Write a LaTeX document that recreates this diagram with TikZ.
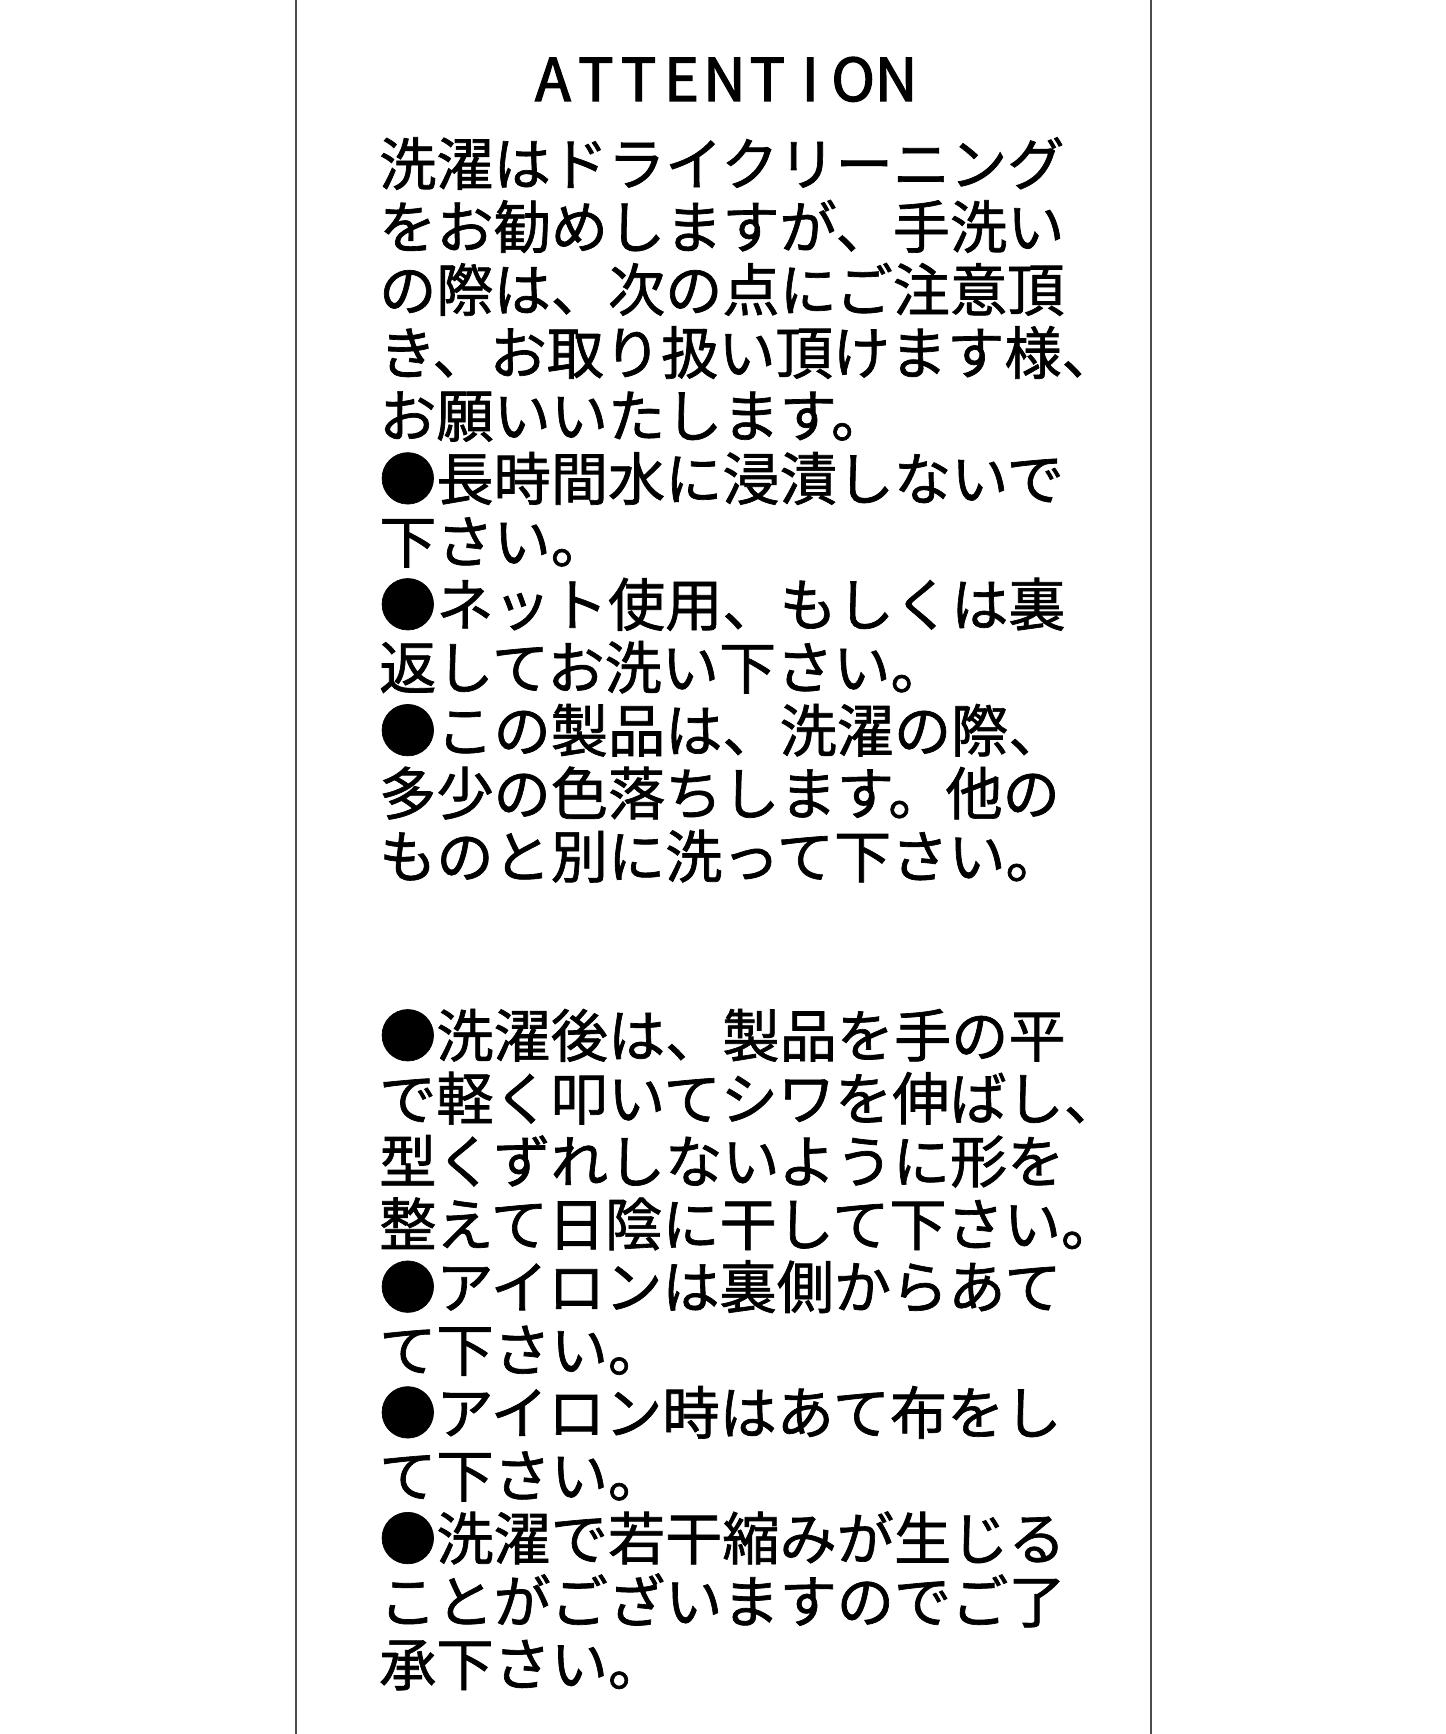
\documentclass[tikz,border=0pt]{standalone}
\usepackage{fontspec}
\newfontfamily\jp[FakeBold=1.2]{Noto Sans CJK JP}
\newfontfamily\jptitle[FakeBold=2.2]{Noto Sans CJK JP}
\begin{document}
\begin{tikzpicture}[x=1pt,y=-1pt,
  frame/.style={draw=black!70,line width=2pt},
  jline/.style={anchor=base west,inner sep=0pt,font=\jp\fontsize{57.2}{63}\selectfont},
  title/.style={anchor=base,inner sep=0pt,font=\jptitle\fontsize{59}{60}\selectfont}]
\useasboundingbox[fill=white] (0,0) rectangle (1445,1734);
\coordinate (lt) at (296,0);
\coordinate (lb) at (296,1734);
\coordinate (rt) at (1151,0);
\coordinate (rb) at (1151,1734);
\draw[frame] (lt) -- (lb);
\draw[frame] (rt) -- (rb);
\newcommand\mb[1]{\makebox[42.9pt]{#1}}
\node[title] (ttl) at (724.5,101) {\mb{A}\mb{T}\mb{T}\mb{E}\mb{N}\mb{T}\mb{I}\mb{O}\mb{N}};
% block 1
\node[jline] (a1) at (379,185.3) {洗濯はドライクリーニング};
\node[jline] (a2) at (379,248.3) {をお勧めしますが、手洗い};
\node[jline] (a3) at (379,311.2) {の際は、次の点にご注意頂};
\node[jline] (a4) at (379,374.2) {き、お取り扱い頂けます様、};
\node[jline] (a5) at (379,437.1) {お願いいたします。};
\node[jline] (a6) at (379,500.1) {●長時間水に浸漬しないで};
\node[jline] (a7) at (379,563.0) {下さい。};
\node[jline] (a8) at (379,626.0) {●ネット使用、もしくは裏};
\node[jline] (a9) at (379,688.9) {返してお洗い下さい。};
\node[jline] (a10) at (379,751.9) {●この製品は、洗濯の際、};
\node[jline] (a11) at (379,814.8) {多少の色落ちします。他の};
\node[jline] (a12) at (379,877.8) {ものと別に洗って下さい。};
% block 2
\node[jline] (b1) at (379,1057.0) {●洗濯後は、製品を手の平};
\node[jline] (b2) at (379,1119.9) {で軽く叩いてシワを伸ばし、};
\node[jline] (b3) at (379,1182.7) {型くずれしないように形を};
\node[jline] (b4) at (379,1245.6) {整えて日陰に干して下さい。};
\node[jline] (b5) at (379,1308.4) {●アイロンは裏側からあて};
\node[jline] (b6) at (379,1371.3) {て下さい。};
\node[jline] (b7) at (379,1434.1) {●アイロン時はあて布をし};
\node[jline] (b8) at (379,1497.0) {て下さい。};
\node[jline] (b9) at (379,1559.8) {●洗濯で若干縮みが生じる};
\node[jline] (b10) at (379,1622.7) {ことがございますのでご了};
\node[jline] (b11) at (379,1685.5) {承下さい。};
\end{tikzpicture}
\end{document}
